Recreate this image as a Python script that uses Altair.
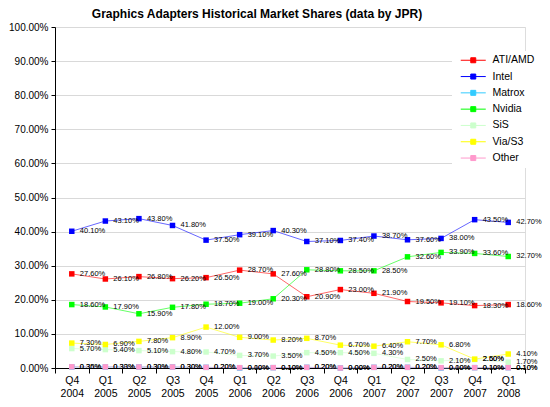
import altair as alt
import pandas as pd

quarters = ["Q4 2004", "Q1 2005", "Q2 2005", "Q3 2005", "Q4 2005", "Q1 2006", "Q2 2006",
            "Q3 2006", "Q4 2006", "Q1 2007", "Q2 2007", "Q3 2007", "Q4 2007", "Q1 2008"]
series = ["ATI/AMD", "Intel", "Matrox", "Nvidia", "SiS", "Via/S3", "Other"]
colors = ["#FF0000", "#0000FF", "#33CCFF", "#00FF00", "#CCFFCC", "#FFFF00", "#FF99CC"]

ati = [27.6, 26.1, 26.8, 26.2, 26.5, 28.7, 27.6, 20.9, 23.0, 21.9, 19.5, 19.1, 18.3, 18.6]
intel = [40.1, 43.1, 43.8, 41.8, 37.5, 39.1, 40.3, 37.1, 37.4, 38.7, 37.6, 38.0, 43.5, 42.7]
matrox = [0.3, 0.3, 0.3, 0.3, 0.2, 0.0, 0.1, 0.2, 0.0, 0.2, 0.2, 0.0, 0.1, 0.1]
nvidia = [18.6, 17.9, 15.9, 17.8, 18.7, 19.0, 20.3, 28.8, 28.5, 28.5, 32.6, 33.9, 33.6, 32.7]
sis = [5.7, 5.4, 5.1, 4.8, 4.7, 3.7, 3.5, 4.5, 4.5, 4.3, 2.5, 2.1, 2.5, 1.7]
via = [7.3, 6.9, 7.8, 8.9, 12.0, 9.0, 8.2, 8.7, 6.7, 6.4, 7.7, 6.8, 2.6, 4.1]
other = [0.35, 0.33, 0.30, 0.30, 0.20, 0.10, 0.10, 0.20, 0.00, 0.20, 0.20, 0.10, 0.10, 0.10]

y_ticks = [0, 0.1, 0.2, 0.3, 0.4, 0.5, 0.6, 0.7, 0.8, 0.9, 1.0]

rows = []
for k, (s, vals) in enumerate(zip(series, [ati, intel, matrox, nvidia, sis, via, other])):
    for q, v in zip(quarters, vals):
        rows.append({"series": s, "quarter": q, "share": v / 100.0, "k": k})
df = pd.DataFrame(rows)

FONT = "Liberation Sans"

x = alt.X("quarter:N", sort=quarters,
          scale=alt.Scale(type="band", paddingInner=0, paddingOuter=0),
          axis=alt.Axis(title=None, labelAngle=0, labelExpr="split(datum.label, ' ')",
                        tickBand="extent", labelFont=FONT, labelFontSize=10.5,
                        labelLineHeight=13, labelPadding=2, tickSize=5,
                        domainColor="black", tickColor="black", labelColor="black"))
y = alt.Y("share:Q", scale=alt.Scale(domain=[0, 1], nice=False),
          axis=alt.Axis(title=None, values=y_ticks, format=".2%", labelFont=FONT,
                        labelFontSize=10, tickSize=4, labelPadding=3,
                        domainColor="black", tickColor="black", labelColor="black",
                        gridColor="#D9D9D9", grid=True))

sym = "M-5,0L5,0M-1,-1L1,-1L1,1L-1,1Z"
color = alt.Color("series:N", scale=alt.Scale(domain=series, range=colors),
                  legend=alt.Legend(title=None, orient="none", legendX=397, legendY=24,
                                    symbolType=sym, symbolSize=25, symbolOffset=12,
                                    symbolStrokeWidth=1, labelFont=FONT, labelFontSize=10.5,
                                    labelOffset=14, rowPadding=5.3, padding=4,
                                    fillColor="white", labelColor="black"))

base = alt.Chart(df)
lines = base.mark_line(strokeWidth=1, strokeOpacity=0.6).encode(
    x=x, y=y, color=color, order="k:Q")
points = base.mark_point(shape="square", filled=True, size=30, opacity=1).encode(
    x=x, y=y, color=color, order="k:Q")
labels = base.mark_text(align="left", baseline="middle", dx=8, fontSize=7.5, font=FONT,
                        color="black").encode(
    x=x, y=y, text=alt.Text("share:Q", format=".2%"))

chart = alt.layer(lines, points, labels).properties(
    width=470, height=341,
    autosize=alt.AutoSizeParams(type="none"),
    padding={"left": 47, "top": 19, "right": 17, "bottom": 31},
    title=alt.TitleParams("Graphics Adapters Historical Market Shares (data by JPR)",
                          font=FONT, fontSize=12, fontWeight="bold", color="black",
                          anchor="middle", dx=-33, offset=1),
).configure_view(stroke="#A6A6A6").configure(background="white")

chart.save("out.html", embed_options={"renderer": "svg", "actions": False})
